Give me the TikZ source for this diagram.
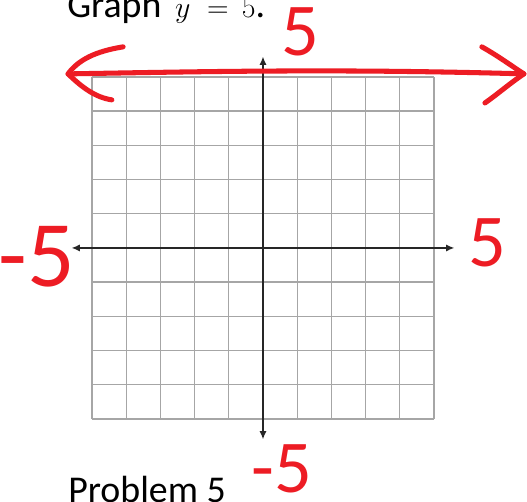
\documentclass[tikz,border=0pt]{standalone}
\usepackage{fontspec}
\setmainfont{Carlito}
\usepackage{xcolor}
\usetikzlibrary{arrows.meta}
\definecolor{penred}{RGB}{237,28,36}
\tikzset{
  gridline/.style={draw=black!35, line width=1.1pt},
  axisline/.style={draw=black!85, line width=1.5pt, -{Latex[length=7pt,width=6pt]}},
  handline/.style={draw=penred, line width=4.2pt, line cap=round, line join=round},
  handnum/.style={text=penred, inner sep=0pt, font=\fontsize{62}{62}\selectfont},
  printtext/.style={inner sep=0pt, anchor=base west, font=\fontsize{31.5}{36}\selectfont},
}

\begin{document}
\begin{tikzpicture}
\useasboundingbox (-7.69,-7.40) rectangle (7.72,7.25);
\fill[white] (-7.69,-7.40) rectangle (7.72,7.25);
% the printed grid and axes
\draw[gridline] (-5,-5) grid (5,5);
\coordinate (O) at (0,0);
\coordinate (xmin) at (-5.6,0);
\coordinate (xmax) at (5.6,0);
\coordinate (ymin) at (0,-5.6);
\coordinate (ymax) at (0,5.6);
\draw[axisline] (O) -- (xmax);
\draw[axisline] (O) -- (xmin);
\draw[axisline] (O) -- (ymax);
\draw[axisline] (O) -- (ymin);
\node[printtext] (title) at (-5.73,6.75) {Graph $\,y\;=\,5$.};
\node[printtext] (prob) at (-5.70,-7.45) {Problem 5};
% the hand drawn line y=5
\coordinate (L) at (-5.70,5.09);
\coordinate (R) at (7.63,5.09);
\draw[handline] (L) .. controls (-2,5.15) and (2,5.25) .. (R);
\draw[handline] (-4.09,5.88) .. controls (-4.9,5.75) and (-5.4,5.5) .. (L)
  .. controls (-5.3,4.7) and (-4.9,4.4) .. (-4.42,4.33);
\draw[handline] (6.40,5.88) .. controls (6.9,5.6) and (7.3,5.3) .. (R)
  .. controls (7.2,4.8) and (6.8,4.45) .. (6.49,4.24);
% hand written labels
\node[handnum] (top) at (1.08,6.32) {5};
\node[handnum] (right) at (6.55,0.15) {5};
\node[handnum, font=\fontsize{78}{78}\selectfont] (left) at (-6.62,-0.25) {-5};
\node[handnum] (bottom) at (0.56,-6.46) {-5};
\end{tikzpicture}
\end{document}
